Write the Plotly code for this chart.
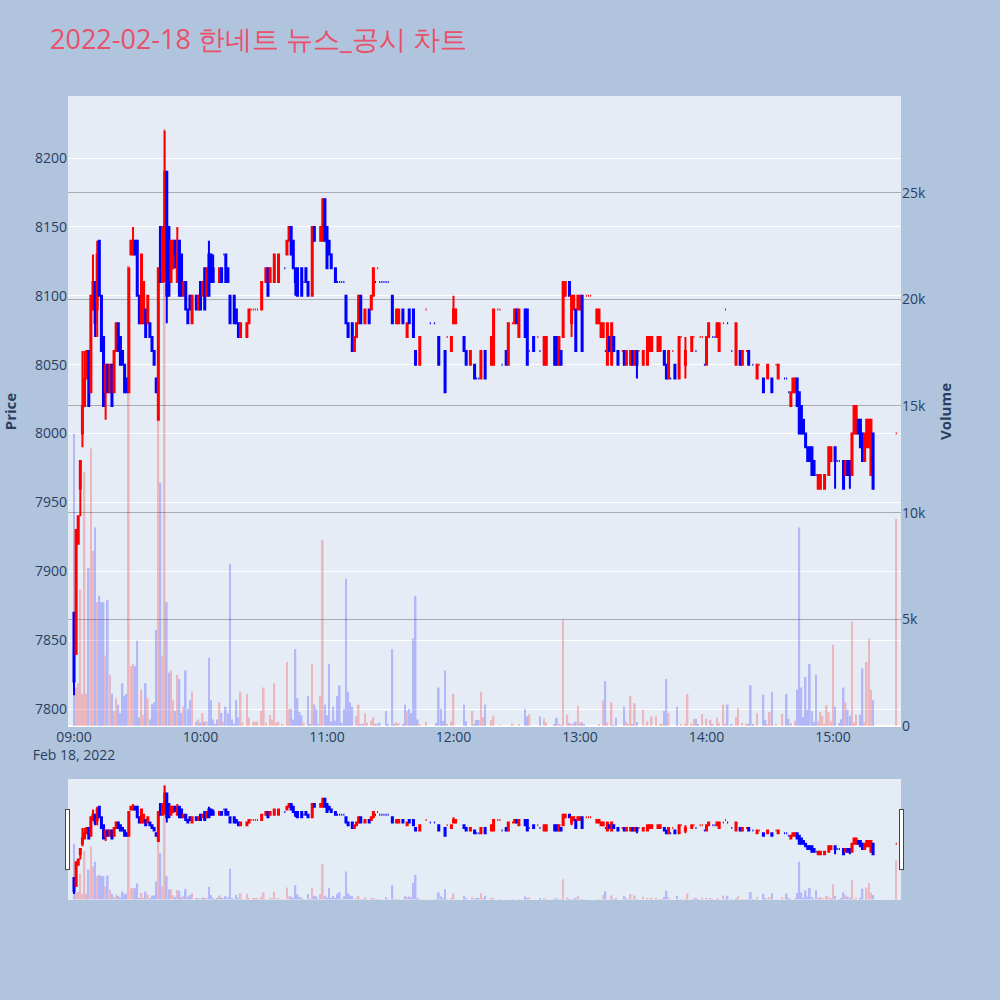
import pandas as pd
import plotly.graph_objects as go

# ---------------- candle data (minutes after 09:00) ----------------
c_min = [0, 1, 2, 3, 4, 5, 6, 7, 8, 9,
         10, 11, 12, 13, 14, 15, 16, 17, 18, 19,
         20, 21, 22, 23, 24, 25, 26, 27, 28, 29,
         30, 31, 32, 33, 34, 35, 36, 37, 38, 39,
         40, 41, 42, 43, 44, 45, 46, 47, 48, 49,
         50, 51, 52, 53, 54, 55, 56, 58, 59, 60,
         61, 62, 63, 64, 65, 66, 69, 70, 71, 72,
         73, 74, 76, 77, 78, 79, 82, 83, 84, 85,
         86, 87, 89, 91, 92, 93, 95, 97, 100, 101,
         102, 103, 104, 105, 106, 108, 109, 110, 111, 113,
         114, 117, 118, 119, 120, 121, 122, 124, 125, 126,
         127, 128, 129, 130, 132, 133, 134, 135, 136, 138,
         140, 141, 142, 143, 144, 145, 146, 147, 148, 149,
         151, 153, 154, 156, 158, 159, 161, 162, 164, 167,
         169, 171, 173, 176, 177, 179, 180, 181, 185, 186,
         188, 190, 191, 192, 193, 195, 198, 199, 201, 202,
         203, 205, 206, 208, 209, 210, 211, 214, 215, 216,
         218, 220, 221, 223, 224, 228, 229, 230, 231, 232,
         233, 235, 236, 237, 238, 239, 240, 241, 243, 244,
         245, 248, 249, 250, 251, 252, 253, 254, 255, 256,
         258, 260, 261, 262, 264, 265, 266, 267, 268, 270,
         272, 273, 274, 277, 278, 280, 281, 282, 283, 284,
         285, 287, 288, 290, 293, 294, 295, 297, 298, 299,
         300, 301, 303, 304, 305, 306, 308, 309, 310, 312,
         314, 316, 317, 319, 320, 322, 324, 325, 327, 329,
         331, 333, 334, 337, 338, 339, 340, 341, 342, 343,
         344, 345, 346, 347, 348, 349, 350, 351, 352, 353,
         354, 356, 358, 359, 361, 362, 363, 365, 366, 367,
         368, 369, 370, 371, 372, 373, 374, 375, 376, 377,
         378, 379, 390]

c_open = [7870, 7840, 7920, 7960, 8000, 8020, 8040, 8060, 8030, 8090,
          8110, 8090, 8140, 8100, 8070, 8030, 8050, 8030, 8050, 8030,
          8060, 8080, 8070, 8060, 8050, 8040, 8030, 8130, 8130, 8140,
          8140, 8100, 8080, 8080, 8090, 8080, 8080, 8070, 8060, 8040,
          8010, 8150, 8110, 8120, 8190, 8150, 8110, 8120, 8140, 8110,
          8140, 8130, 8100, 8110, 8090, 8100, 8080, 8100, 8090, 8110,
          8100, 8120, 8100, 8130, 8130, 8120, 8110, 8120, 8130, 8130,
          8120, 8100, 8100, 8090, 8080, 8070, 8070, 8080, 8090, 8090,
          8090, 8090, 8090, 8110, 8120, 8110, 8110, 8110, 8120, 8130,
          8140, 8150, 8140, 8120, 8120, 8120, 8110, 8120, 8110, 8100,
          8150, 8140, 8140, 8170, 8150, 8140, 8130, 8120, 8110, 8110,
          8110, 8110, 8100, 8080, 8080, 8060, 8070, 8080, 8100, 8080,
          8090, 8090, 8100, 8110, 8120, 8110, 8110, 8110, 8110, 8110,
          8100, 8080, 8080, 8090, 8070, 8090, 8090, 8060, 8050, 8090,
          8080, 8080, 8070, 8060, 8070, 8060, 8080, 8080, 8070, 8060,
          8050, 8050, 8040, 8040, 8040, 8060, 8050, 8050, 8090, 8090,
          8050, 8060, 8050, 8080, 8080, 8090, 8070, 8090, 8090, 8060,
          8070, 8070, 8060, 8050, 8050, 8070, 8070, 8050, 8060, 8070,
          8100, 8110, 8080, 8090, 8090, 8090, 8090, 8100, 8100, 8100,
          8100, 8080, 8080, 8070, 8070, 8060, 8050, 8070, 8050, 8070,
          8060, 8060, 8060, 8050, 8050, 8060, 8050, 8060, 8060, 8050,
          8050, 8060, 8060, 8060, 8060, 8060, 8050, 8040, 8040, 8060,
          8050, 8040, 8070, 8050, 8060, 8070, 8060, 8070, 8070, 8050,
          8050, 8070, 8070, 8070, 8070, 8060, 8080, 8090, 8080, 8060,
          8050, 8060, 8050, 8060, 8060, 8050, 8040, 8050, 8040, 8040,
          8040, 8050, 8040, 8040, 8040, 8030, 8020, 8030, 8030, 8040,
          8030, 8020, 8010, 8000, 7990, 7990, 7990, 7980, 7970, 7960,
          7960, 7960, 7970, 7980, 7990, 7980, 7980, 7980, 7970, 7980,
          7980, 7970, 8000, 8000, 8010, 8010, 8000, 7980, 7990, 7990,
          7970, 8000, 8000]

c_high = [7870, 7930, 7940, 7980, 8060, 8060, 8060, 8060, 8100, 8130,
          8110, 8140, 8140, 8100, 8070, 8050, 8050, 8050, 8050, 8060,
          8080, 8080, 8070, 8060, 8050, 8040, 8120, 8140, 8150, 8140,
          8140, 8100, 8130, 8110, 8090, 8100, 8080, 8070, 8060, 8040,
          8120, 8150, 8150, 8220, 8190, 8150, 8140, 8140, 8140, 8150,
          8140, 8130, 8110, 8110, 8090, 8100, 8100, 8100, 8100, 8110,
          8110, 8120, 8120, 8140, 8130, 8130, 8120, 8120, 8130, 8130,
          8120, 8100, 8100, 8090, 8080, 8080, 8080, 8090, 8090, 8090,
          8090, 8090, 8110, 8120, 8120, 8120, 8130, 8130, 8120, 8140,
          8150, 8150, 8140, 8120, 8120, 8120, 8110, 8120, 8110, 8150,
          8150, 8150, 8170, 8170, 8150, 8140, 8130, 8120, 8110, 8110,
          8110, 8110, 8100, 8080, 8080, 8070, 8080, 8100, 8100, 8090,
          8090, 8100, 8120, 8110, 8120, 8110, 8110, 8110, 8110, 8110,
          8100, 8090, 8090, 8090, 8080, 8090, 8090, 8060, 8070, 8090,
          8080, 8080, 8070, 8060, 8070, 8070, 8100, 8090, 8070, 8060,
          8060, 8050, 8040, 8040, 8060, 8060, 8070, 8090, 8090, 8090,
          8050, 8060, 8080, 8080, 8090, 8090, 8090, 8090, 8090, 8060,
          8070, 8070, 8060, 8070, 8070, 8070, 8070, 8070, 8060, 8110,
          8110, 8110, 8100, 8100, 8090, 8100, 8100, 8100, 8100, 8100,
          8100, 8090, 8090, 8080, 8080, 8060, 8080, 8070, 8080, 8070,
          8060, 8060, 8060, 8060, 8060, 8060, 8060, 8060, 8060, 8060,
          8070, 8070, 8070, 8070, 8070, 8060, 8050, 8060, 8040, 8060,
          8050, 8070, 8070, 8070, 8070, 8070, 8060, 8070, 8070, 8050,
          8070, 8080, 8070, 8070, 8080, 8080, 8080, 8090, 8080, 8060,
          8080, 8060, 8060, 8060, 8060, 8050, 8050, 8050, 8040, 8050,
          8040, 8050, 8050, 8040, 8040, 8030, 8030, 8040, 8040, 8040,
          8030, 8020, 8010, 8000, 7990, 7990, 7990, 7980, 7970, 7970,
          7970, 7970, 7990, 7990, 7990, 7980, 7980, 7980, 7980, 7980,
          7980, 8000, 8020, 8020, 8010, 8010, 8000, 8000, 8010, 8010,
          8010, 8000, 8000]

c_low = [7810, 7840, 7920, 7940, 7990, 8020, 8040, 8020, 8030, 8090,
         8070, 8070, 8100, 8060, 8020, 8010, 8030, 8030, 8020, 8030,
         8060, 8060, 8050, 8050, 8030, 8030, 8030, 8130, 8130, 8130,
         8100, 8080, 8080, 8080, 8070, 8080, 8070, 8060, 8050, 8030,
         8010, 8110, 8110, 8110, 8080, 8100, 8110, 8120, 8120, 8110,
         8100, 8100, 8100, 8090, 8080, 8090, 8080, 8090, 8090, 8090,
         8100, 8090, 8100, 8100, 8110, 8110, 8110, 8110, 8130, 8110,
         8110, 8080, 8080, 8080, 8070, 8070, 8070, 8080, 8090, 8090,
         8090, 8090, 8090, 8110, 8100, 8110, 8110, 8110, 8120, 8130,
         8140, 8130, 8120, 8100, 8100, 8100, 8110, 8110, 8100, 8100,
         8140, 8140, 8140, 8140, 8120, 8130, 8120, 8110, 8110, 8110,
         8110, 8110, 8080, 8070, 8060, 8060, 8070, 8080, 8080, 8080,
         8080, 8090, 8100, 8110, 8120, 8110, 8110, 8110, 8110, 8110,
         8080, 8080, 8080, 8080, 8070, 8080, 8070, 8050, 8050, 8090,
         8080, 8080, 8050, 8030, 8070, 8060, 8080, 8080, 8060, 8050,
         8050, 8040, 8040, 8040, 8040, 8040, 8050, 8050, 8090, 8090,
         8050, 8050, 8050, 8080, 8080, 8080, 8070, 8070, 8050, 8060,
         8060, 8070, 8060, 8050, 8050, 8050, 8050, 8050, 8050, 8070,
         8100, 8100, 8070, 8090, 8060, 8090, 8090, 8060, 8100, 8100,
         8100, 8080, 8080, 8070, 8070, 8060, 8050, 8060, 8050, 8060,
         8050, 8060, 8050, 8050, 8050, 8050, 8050, 8040, 8060, 8050,
         8050, 8060, 8060, 8060, 8060, 8050, 8040, 8040, 8040, 8060,
         8040, 8040, 8070, 8040, 8060, 8070, 8060, 8070, 8070, 8050,
         8050, 8070, 8070, 8070, 8070, 8060, 8080, 8090, 8080, 8060,
         8050, 8050, 8050, 8060, 8050, 8050, 8040, 8050, 8030, 8040,
         8030, 8050, 8040, 8040, 8040, 8030, 8020, 8030, 8030, 8020,
         8000, 8000, 8000, 7990, 7980, 7980, 7970, 7970, 7970, 7960,
         7960, 7960, 7970, 7980, 7960, 7980, 7980, 7960, 7970, 7970,
         7960, 7970, 8000, 8000, 8000, 7990, 7980, 7980, 7990, 7990,
         7970, 7960, 8000]

c_close = [7820, 7930, 7940, 7980, 8020, 8040, 8060, 8020, 8100, 8110,
           8080, 8130, 8100, 8060, 8020, 8050, 8030, 8050, 8020, 8060,
           8080, 8060, 8050, 8050, 8030, 8030, 8120, 8140, 8140, 8130,
           8100, 8080, 8130, 8110, 8070, 8100, 8070, 8060, 8050, 8030,
           8120, 8110, 8150, 8190, 8100, 8100, 8140, 8140, 8130, 8130,
           8100, 8100, 8110, 8090, 8080, 8090, 8100, 8090, 8100, 8090,
           8110, 8090, 8120, 8100, 8110, 8110, 8120, 8110, 8130, 8110,
           8110, 8080, 8080, 8080, 8070, 8080, 8080, 8090, 8090, 8090,
           8090, 8090, 8110, 8120, 8100, 8120, 8130, 8130, 8120, 8140,
           8150, 8130, 8120, 8110, 8100, 8100, 8110, 8110, 8100, 8150,
           8140, 8150, 8170, 8140, 8120, 8130, 8120, 8110, 8110, 8110,
           8110, 8110, 8080, 8070, 8060, 8070, 8080, 8100, 8080, 8090,
           8080, 8100, 8120, 8110, 8120, 8110, 8110, 8110, 8110, 8110,
           8080, 8090, 8090, 8080, 8080, 8080, 8070, 8050, 8070, 8090,
           8080, 8080, 8050, 8030, 8070, 8070, 8090, 8090, 8060, 8050,
           8060, 8040, 8040, 8040, 8060, 8040, 8070, 8090, 8090, 8090,
           8050, 8050, 8080, 8080, 8090, 8080, 8090, 8070, 8050, 8060,
           8060, 8070, 8060, 8070, 8070, 8050, 8050, 8070, 8050, 8110,
           8110, 8100, 8100, 8100, 8060, 8100, 8100, 8060, 8100, 8100,
           8100, 8090, 8090, 8080, 8080, 8060, 8080, 8060, 8080, 8060,
           8050, 8060, 8050, 8060, 8060, 8050, 8060, 8050, 8060, 8060,
           8070, 8070, 8070, 8070, 8070, 8050, 8040, 8060, 8040, 8060,
           8040, 8070, 8070, 8060, 8070, 8070, 8060, 8070, 8070, 8050,
           8070, 8080, 8070, 8070, 8080, 8080, 8080, 8090, 8080, 8060,
           8080, 8050, 8060, 8060, 8050, 8050, 8050, 8050, 8030, 8050,
           8030, 8050, 8050, 8040, 8040, 8030, 8030, 8040, 8040, 8020,
           8000, 8000, 8000, 7990, 7980, 7980, 7970, 7970, 7970, 7970,
           7970, 7970, 7990, 7990, 7980, 7980, 7980, 7960, 7980, 7970,
           7970, 8000, 8020, 8020, 8000, 7990, 7980, 8000, 8010, 8010,
           8010, 7960, 8000]

# ---------------- volume data (minutes after 09:00) ----------------
v_min = [0, 1, 2, 3, 4, 5, 6, 7, 8, 9,
         10, 11, 12, 13, 14, 15, 16, 17, 18, 19,
         20, 21, 22, 23, 24, 25, 26, 27, 28, 29,
         30, 31, 32, 33, 34, 35, 36, 37, 38, 39,
         40, 41, 42, 43, 44, 45, 46, 47, 48, 49,
         50, 51, 52, 53, 54, 55, 56, 58, 59, 60,
         61, 62, 63, 64, 65, 66, 67, 68, 69, 70,
         71, 72, 73, 74, 75, 76, 77, 78, 79, 80,
         82, 83, 85, 86, 87, 89, 90, 91, 93, 94,
         95, 96, 97, 99, 101, 102, 103, 104, 105, 106,
         107, 108, 109, 111, 112, 113, 114, 115, 116, 117,
         118, 119, 120, 121, 122, 123, 124, 125, 126, 127,
         128, 129, 130, 131, 132, 134, 135, 136, 137, 138,
         139, 141, 142, 143, 144, 145, 148, 149, 151, 152,
         153, 154, 156, 157, 158, 159, 160, 161, 162, 163,
         164, 167, 172, 173, 174, 175, 176, 177, 179, 180,
         185, 186, 189, 190, 191, 192, 193, 194, 195, 198,
         199, 202, 208, 211, 214, 215, 216, 221, 223, 224,
         228, 229, 230, 231, 232, 234, 235, 236, 237, 238,
         239, 240, 241, 242, 249, 251, 252, 253, 255, 256,
         257, 261, 262, 263, 264, 265, 266, 267, 270, 272,
         274, 276, 278, 279, 280, 281, 282, 286, 288, 290,
         291, 293, 294, 295, 296, 298, 300, 302, 303, 305,
         306, 308, 309, 310, 312, 314, 315, 317, 319, 320,
         321, 322, 324, 327, 328, 329, 330, 331, 333, 336,
         338, 339, 340, 342, 343, 344, 345, 346, 347, 348,
         349, 350, 351, 352, 353, 354, 355, 356, 357, 358,
         359, 360, 361, 363, 364, 365, 366, 367, 368, 369,
         370, 371, 373, 374, 375, 376, 377, 378, 379, 390]

v_vol = [13700, 1800, 2000, 6400, 1500, 11900, 1500, 7400, 13000, 8200,
         9300, 5800, 6100, 5800, 5800, 3300, 5900, 2400, 1500, 700,
         1300, 1000, 600, 2000, 1400, 1500, 21600, 2800, 2900, 2800,
         4000, 400, 1700, 500, 2000, 1300, 300, 1000, 1100, 4500,
         15000, 11400, 3300, 28000, 5800, 2500, 2600, 1200, 700, 2400,
         2200, 600, 900, 2600, 800, 1200, 1600, 200, 300, 150,
         600, 200, 200, 3200, 1200, 300, 100, 300, 1100, 600,
         200, 900, 600, 7600, 300, 100, 1200, 400, 1600, 150,
         1500, 400, 200, 200, 200, 700, 1800, 150, 500, 300,
         2000, 150, 200, 100, 3000, 800, 800, 300, 3600, 1300,
         650, 500, 150, 1400, 100, 2900, 1000, 800, 100, 1400,
         8700, 1000, 500, 2900, 200, 900, 250, 1400, 1900, 150,
         800, 6900, 1600, 1100, 900, 450, 1000, 100, 100, 600,
         150, 250, 400, 100, 100, 150, 700, 100, 3600, 50,
         170, 130, 60, 1000, 700, 800, 600, 4100, 6100, 300,
         60, 180, 140, 1800, 800, 230, 2600, 100, 220, 1500,
         1000, 220, 700, 60, 280, 280, 1600, 420, 1000, 270,
         450, 30, 110, 90, 800, 450, 550, 450, 340, 170,
         90, 370, 90, 30, 5000, 530, 140, 90, 110, 200,
         950, 160, 160, 50, 50, 1200, 2100, 160, 1100, 30,
         370, 900, 220, 60, 1400, 90, 1060, 190, 760, 220,
         440, 450, 60, 60, 700, 2200, 600, 900, 60, 110,
         1500, 110, 340, 330, 60, 560, 330, 280, 50, 400,
         120, 1000, 50, 1000, 50, 420, 840, 140, 110, 60,
         1900, 90, 600, 1460, 280, 80, 640, 1600, 60, 560,
         1500, 330, 140, 250, 1700, 9300, 1800, 420, 2300, 760,
         2900, 690, 190, 2400, 220, 650, 480, 90, 970, 640,
         220, 3800, 900, 140, 310, 1800, 1100, 760, 480, 4900,
         160, 530, 530, 2700, 190, 3000, 4100, 1700, 1200, 9700]

TITLE = "2022-02-18 한네트 뉴스_공시 차트"
X_START = "2022-02-18 08:57:09"
X_END = "2022-02-18 15:32:15"

base = pd.Timestamp("2022-02-18 09:00:00")
cx = [base + pd.Timedelta(minutes=m) for m in c_min]
vx = [base + pd.Timedelta(minutes=m) for m in v_min]

# direction of each candle, following plotly's own rule
direction = {}
inc, prev = True, None
for m, o, c in zip(c_min, c_open, c_close):
    if c == o:
        if prev is not None and c != prev:
            inc = c > prev
    else:
        inc = c > o
    prev = c
    direction[m] = inc

v_colors = []
di = sorted(direction)
for m in v_min:
    d = True
    for k in di:
        if k <= m:
            d = direction[k]
        else:
            break
    v_colors.append("red" if d else "blue")

fig = go.Figure()
fig.add_trace(go.Bar(
    x=vx, y=v_vol, yaxis="y", name="Volume",
    marker=dict(color=v_colors, line=dict(width=0)), opacity=0.22,
    showlegend=False,
))
fig.add_trace(go.Candlestick(
    x=cx, open=c_open, high=c_high, low=c_low, close=c_close,
    yaxis="y2", name="Price",
    increasing=dict(line=dict(color="red", width=2), fillcolor="red"),
    decreasing=dict(line=dict(color="blue", width=2), fillcolor="blue"),
    showlegend=False,
))

tick_font = dict(size=14, color="#2a3f5f")
fig.update_layout(
    width=1000, height=1000, autosize=False,
    paper_bgcolor="#b0c4de", plot_bgcolor="#e5ecf6",
    title=dict(text=TITLE, x=0.05, xanchor="left", y=0.96, yanchor="middle",
               font=dict(size=27, color="#e9506a")),
    margin=dict(l=68, r=99, t=96, b=100),
    showlegend=False,
    xaxis=dict(
        type="date", range=[X_START, X_END], showgrid=False, tickfont=tick_font,
        automargin=False,
        rangeslider=dict(visible=True, thickness=0.15, range=[X_START, X_END]),
    ),
    yaxis=dict(
        title=dict(text="Volume", font=dict(size=15, color="#2a3f5f", weight="bold")),
        side="right", range=[-50, 29530], showgrid=True, tickfont=tick_font,
        gridcolor="rgba(128,128,128,0.6)", zeroline=True, automargin=False,
    ),
    yaxis2=dict(
        title=dict(text="Price", font=dict(size=15, color="#2a3f5f", weight="bold")),
        side="left", overlaying="y", range=[7787, 8245], showgrid=True,
        gridcolor="white", tickfont=tick_font, automargin=False,
    ),
)

fig.write_html(
    "out.html",
    config={"displayModeBar": False},
    post_script="document.body.style.margin='0';document.body.style.overflow='hidden';",
)
